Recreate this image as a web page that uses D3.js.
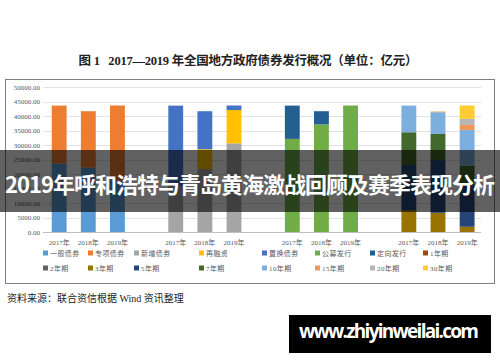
<!DOCTYPE html>
<html>
<head>
<meta charset="utf-8">
<script src="https://cdn.jsdelivr.net/npm/d3@7"></script>
<style>
  body { margin: 0; background: #fff; }
  svg  { display: block; }
  .pre { white-space: pre; }
</style>
</head>
<body>
<svg id="chart"></svg>
<script>
// =====================================================
// Data
// =====================================================
const years     = ["2017年", "2018年", "2019年"];
const yTicks    = [0, 5000, 10000, 15000, 20000, 25000, 30000, 35000, 40000, 45000, 50000];

/** Each group of three bars stacks only its own series */
const groupGeneral  = ["一般债券", "专项债券"];
const groupUse      = ["新增债券", "再融资", "置换债券"];
const groupChannel  = ["公募发行", "定向发行"];
const groupTerm     = ["1年期", "2年期", "3年期", "5年期", "7年期", "10年期", "15年期", "20年期", "30年期"];

const generalBond   = [23619, 22192, 17742];
const specialBond   = [19962, 19460, 25882];
const newBond       = [15898, 21705, 30561];
const refinance     = [0, 6817, 11500];
const replaceBond   = [27683, 13130, 1563];
const publicIssue   = [32100, 37100, 43624];
const privateIssue  = [11481, 4552, 0];
const term1         = [0, 0, 0];
const term2         = [0, 0, 0];
const term3         = [7600, 6600, 1800];
const term5         = [15500, 18200, 14200];
const term7         = [11300, 9000, 6900];
const term10        = [9181, 7500, 12300];
const term15        = [0, 100, 1700];
const term20        = [0, 150, 2100];
const term30        = [0, 100, 4624];

const seriesNames  = [...groupGeneral, ...groupUse, ...groupChannel, ...groupTerm];
const seriesValues = [generalBond, specialBond, newBond, refinance, replaceBond,
                      publicIssue, privateIssue, term1, term2, term3, term5, term7,
                      term10, term15, term20, term30];
const groups       = [groupGeneral, groupUse, groupChannel, groupTerm];

// =====================================================
// Styles
// =====================================================
const colors = ["#5B9BD5", "#ED7D31", "#A5A5A5", "#FFC000", "#4472C4", "#70AD47",
                "#255E91", "#9E480E", "#636363", "#997300", "#264478", "#43682B",
                "#7CAFDD", "#F1975A", "#B7B7B7", "#FFCD33"];
const serif  = "'Liberation Serif', 'Noto Sans CJK SC', serif";
const cjk    = "'Noto Sans CJK SC', sans-serif";

// =====================================================
// Build table: 4 groups x (3 years + 1 gap) - trailing gap
// =====================================================
const table = [];
groups.forEach((g, gi) => {
  years.forEach((yr, yi) => {
    const row = { slot: gi * 4 + yi, label: yr };
    seriesNames.forEach((s, si) => {
      row[s] = g.includes(s) ? seriesValues[si][yi] : 0;
    });
    table.push(row);
  });
});
const slotCount = groups.length * 4 - 1;

const stacked = d3.stack().keys(seriesNames)(table);

// =====================================================
// Plot
// =====================================================
const W = 500, H = 362;
const svg = d3.select("#chart").attr("width", W).attr("height", H);

svg.append("rect").attr("width", W).attr("height", H).attr("fill", "#fff");

// chart title
svg.append("text")
  .attr("class", "pre")
  .attr("x", 248).attr("y", 65)
  .attr("text-anchor", "middle")
  .attr("font-family", serif)
  .attr("font-size", 12.5)
  .attr("font-weight", 600)
  .attr("fill", "#222")
  .attr("textLength", 339)
  .text("图 1   2017—2019 年全国地方政府债券发行概况（单位：亿元）");

// frame
svg.append("rect")
  .attr("x", 5.5).attr("y", 79.5)
  .attr("width", 489).attr("height", 204)
  .attr("fill", "none")
  .attr("stroke", "#7f7f7f")
  .attr("stroke-width", 1);

const x = d3.scaleBand()
  .domain(d3.range(slotCount))
  .range([44.6, 481.7])
  .paddingInner(0.49)
  .paddingOuter(0.245);

const y = d3.scaleLinear()
  .domain([0, 50000])
  .range([232, 87]);

// grid
svg.append("g")
  .selectAll("line")
  .data(yTicks)
  .join("line")
  .attr("x1", 43).attr("x2", 481)
  .attr("y1", d => Math.round(y(d)) + 0.5)
  .attr("y2", d => Math.round(y(d)) + 0.5)
  .attr("stroke", d => d === 0 ? "#bfbfbf" : "#e3e3e3")
  .attr("stroke-width", 1);

// y axis labels
const yAxis = svg.append("g")
  .attr("transform", "translate(40,0)")
  .call(d3.axisLeft(y).tickValues(yTicks).tickFormat(d3.format(".2f")).tickSize(0).tickPadding(0));
yAxis.select(".domain").remove();
yAxis.selectAll("text")
  .attr("font-family", serif)
  .attr("font-size", 7)
  .attr("fill", "#595959");

// bars
svg.append("g")
  .selectAll("g")
  .data(stacked)
  .join("g")
  .attr("fill", (d, i) => colors[i])
  .selectAll("rect")
  .data(d => d.filter(p => p[1] > p[0]))
  .join("rect")
  .attr("x", p => x(p.data.slot))
  .attr("width", x.bandwidth())
  .attr("y", p => y(p[1]))
  .attr("height", p => y(p[0]) - y(p[1]));

// x labels
svg.append("g")
  .selectAll("text")
  .data(table)
  .join("text")
  .attr("x", d => x(d.slot) + x.bandwidth() / 2)
  .attr("y", 245)
  .attr("text-anchor", "middle")
  .attr("font-family", serif)
  .attr("font-size", 7)
  .attr("fill", "#595959")
  .text(d => d.label);

// ----------
// Legend
// =================
const legendX = [43, 88, 134, 199, 262, 315, 370, 423];
const legend = svg.append("g")
  .selectAll("g")
  .data(seriesNames)
  .join("g")
  .attr("transform", (d, i) => `translate(${legendX[i % 8]}, ${i < 8 ? 253 : 268})`);
legend.append("rect")
  .attr("x", 0).attr("y", -2.5)
  .attr("width", 5).attr("height", 5)
  .attr("fill", (d, i) => colors[i]);
legend.append("text")
  .attr("x", 7).attr("y", 2.5)
  .attr("font-family", serif)
  .attr("font-size", 7)
  .attr("letter-spacing", 0.4)
  .attr("fill", "#595959")
  .text(d => d);

// source note
svg.append("text")
  .attr("x", 7).attr("y", 302)
  .attr("font-family", serif)
  .attr("font-size", 10)
  .attr("fill", "#222")
  .text("资料来源：联合资信根据 Wind 资讯整理");

// ----------
// Overlay banner
// =================
svg.append("rect")
  .attr("x", 0).attr("y", 150)
  .attr("width", W).attr("height", 62)
  .attr("fill", "#000")
  .attr("fill-opacity", 0.62);
svg.append("text")
  .attr("x", 250).attr("y", 193)
  .attr("text-anchor", "middle")
  .attr("font-family", cjk)
  .attr("font-size", 22)
  .attr("font-weight", "bold")
  .attr("fill", "#fff")
  .attr("textLength", 490)
  .text("2019年呼和浩特与青岛黄海激战回顾及赛季表现分析");

// watermark
svg.append("rect")
  .attr("x", 289).attr("y", 315)
  .attr("width", 202).attr("height", 38)
  .attr("fill", "#000");
svg.append("text")
  .attr("x", 389).attr("y", 338)
  .attr("text-anchor", "middle")
  .attr("font-family", "'Open Sans', 'DejaVu Sans', sans-serif")
  .attr("font-size", 19)
  .attr("font-weight", "bold")
  .attr("fill", "#fff")
  .attr("textLength", 180)
  .text("www.zhiyinweilai.com");
</script>
</body>
</html>
